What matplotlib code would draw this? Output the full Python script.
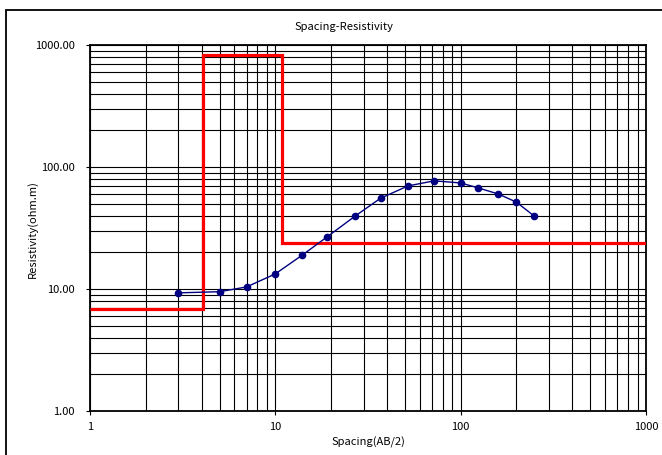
import matplotlib
matplotlib.use("Agg")
import matplotlib.pyplot as plt
from matplotlib.patches import Rectangle
from matplotlib.ticker import FixedLocator, LogLocator, NullFormatter

# measured apparent resistivity
spacing = [3, 5, 7, 10, 14, 19, 27, 37, 52, 72, 100, 124, 160, 200, 250]
rho_app = [9.3, 9.5, 10.4, 13.3, 19.0, 26.7, 39.7, 55.5, 70.0, 77.0, 74.0, 67.5, 60.0, 51.5, 39.5]

# layered model (step line)
layer_edges = [1, 4.07, 10.9, 1000]
layer_rho = [6.9, 830, 24]

xticks = [1, 10, 100, 1000]
xticklabels = ["1", "10", "100", "1000"]
yticks = [1, 10, 100, 1000]
yticklabels = ["1.00", "10.00", "100.00", "1000.00"]

plt.rcParams['font.family'] = ['Noto Sans CJK JP', 'DejaVu Sans']

fig = plt.figure(figsize=(6.62, 4.55), dpi=100)
ax = fig.add_axes([90/662, 1 - 411/455, 556/662, 366/455])

# outer chart frame
fig.patches.append(Rectangle((6/662, -0.1), 1.2, 1 - 10/455 + 0.1, transform=fig.transFigure,
                             fill=False, edgecolor="black", lw=1.3))

ax.set_xscale("log")
ax.set_yscale("log")
ax.set_xlim(1, 1000)
ax.set_ylim(1, 1000)

ax.xaxis.set_minor_locator(LogLocator(base=10, subs=range(2, 10)))
ax.yaxis.set_minor_locator(LogLocator(base=10, subs=range(2, 10)))
ax.xaxis.set_minor_formatter(NullFormatter())
ax.yaxis.set_minor_formatter(NullFormatter())
ax.xaxis.set_major_locator(FixedLocator(xticks))
ax.yaxis.set_major_locator(FixedLocator(yticks))
ax.set_xticklabels(xticklabels)
ax.set_yticklabels(yticklabels)
ax.grid(True, which="both", color="black", lw=0.8)
ax.tick_params(axis="y", which="major", length=3, labelsize=8, pad=8)
ax.tick_params(axis="x", which="major", length=3, labelsize=8, pad=5)
ax.tick_params(which="minor", length=0)
ax.set_axisbelow(True)
for s in ax.spines.values():
    s.set_linewidth(1.3)

ax.stairs(layer_rho, layer_edges, baseline=None, color="#ff0000", lw=2.3, zorder=3)
ax.plot(spacing, rho_app, color="#000080", lw=1, marker="o", ms=4.5, zorder=4, clip_on=False)

fig.text(344/662, 1 - 27/455, "Spacing-Resistivity", ha="center", va="center", fontsize=8)
ax.set_xlabel("Spacing(AB/2)", fontsize=8, labelpad=3)
fig.text(32/662, 1 - 229/455, "Resistivity(ohm.m)", ha="center", va="center",
         rotation=90, fontsize=8)

fig.savefig("out.png", dpi=100)
